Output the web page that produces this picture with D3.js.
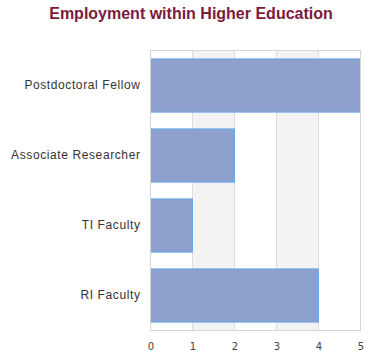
<!DOCTYPE html>
<html>
<head>
<meta charset="utf-8">
<script src="https://cdn.jsdelivr.net/npm/d3@7"></script>
<style>
  body { margin: 0; background: #fff; }
</style>
</head>
<body>
<div class="chart"></div>
<script>
var categories = ["Postdoctoral Fellow", "Associate Researcher", "TI Faculty", "RI Faculty"];
var counts = [5, 2, 1, 4];
var xTicks = [0, 1, 2, 3, 4, 5];

var svgWidth = 380;
var svgHeight = 360;

var margin = { top: 50.5, right: 19.5, bottom: 29.5, left: 150.5 };

var width = svgWidth - margin.left - margin.right;
var height = svgHeight - margin.top - margin.bottom;

var svg = d3.select(".chart")
  .append("svg")
  .attr("width", svgWidth)
  .attr("height", svgHeight);

// title
svg.append("text")
  .attr("x", 191)
  .attr("y", 19)
  .attr("text-anchor", "middle")
  .attr("font-family", "Liberation Sans, Arial, sans-serif")
  .attr("font-weight", "bold")
  .attr("font-size", "16px")
  .attr("fill", "#7b1a3c")
  .text("Employment within Higher Education");

var chartGroup = svg.append("g").attr("transform", `translate(${margin.left}, ${margin.top})`);

var xScale = d3.scaleLinear().domain([0, 5]).range([0, width]);
var yScale = d3.scaleBand().domain(categories).range([0, height]).paddingInner(0.24).paddingOuter(0.12);

// alternating bands
var bandStarts = [1, 3];
chartGroup.selectAll("rect.band")
  .data(bandStarts)
  .enter()
  .append("rect")
  .attr("class", "band")
  .attr("x", d => xScale(d))
  .attr("y", 0)
  .attr("width", d => xScale(d + 1) - xScale(d))
  .attr("height", height)
  .attr("fill", "#f3f3f3");

// grid lines
chartGroup.selectAll("line.grid")
  .data(xTicks)
  .enter()
  .append("line")
  .attr("class", "grid")
  .attr("x1", d => xScale(d))
  .attr("x2", d => xScale(d))
  .attr("y1", 0)
  .attr("y2", height)
  .attr("stroke", "#dddddd")
  .attr("stroke-width", 1);

// bars
var rows = categories.map((c, i) => ({ cat: c, val: counts[i] }));
chartGroup.selectAll("rect.bar")
  .data(rows)
  .enter()
  .append("rect")
  .attr("class", "bar")
  .attr("x", 0)
  .attr("y", d => yScale(d.cat))
  .attr("width", d => xScale(d.val))
  .attr("height", yScale.bandwidth())
  .attr("fill", "#8da1cc")
  .attr("stroke", "#66aaee")
  .attr("stroke-width", 1);

// plot border
chartGroup.append("rect")
  .attr("x", 0)
  .attr("y", 0)
  .attr("width", width)
  .attr("height", height)
  .attr("fill", "none")
  .attr("stroke", "#d6d6d6")
  .attr("stroke-width", 1);

// x axis
var xaxis = d3.axisBottom(xScale).tickValues(xTicks).tickFormat(d3.format("d")).tickSize(0).tickPadding(12);
var gx = chartGroup.append("g").attr("transform", `translate(0, ${height})`).call(xaxis);
gx.select(".domain").remove();
gx.selectAll("text")
  .attr("font-family", "DejaVu Sans, sans-serif")
  .attr("font-size", "10px")
  .attr("fill", "#444");

// y axis
var yaxis = d3.axisLeft(yScale).tickSize(0).tickPadding(10);
var gy = chartGroup.append("g").call(yaxis);
gy.select(".domain").remove();
gy.selectAll("text")
  .attr("font-family", "Liberation Sans, Arial, sans-serif")
  .attr("font-size", "12px")
  .attr("letter-spacing", "0.6px")
  .attr("fill", "#333");
</script>
</body>
</html>
